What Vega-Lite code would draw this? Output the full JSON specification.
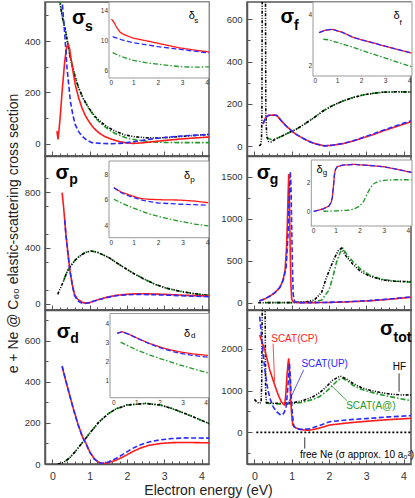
{
"$schema":"https://vega.github.io/schema/vega-lite/v6.json",
"padding":{"left":5,"top":0,"right":0,"bottom":0},
"datasets":{
"main":[
{"p":"s","s":"A@","x":0.2,"y":560},{"p":"s","s":"A@","x":0.27,"y":490},{"p":"s","s":"A@","x":0.35,"y":439},{"p":"s","s":"A@","x":0.48,"y":335},{"p":"s","s":"A@","x":0.6,"y":265},{"p":"s","s":"A@","x":0.7,"y":218},{"p":"s","s":"A@","x":0.83,"y":175},{"p":"s","s":"A@","x":0.97,"y":138},{"p":"s","s":"A@","x":1.15,"y":100},{"p":"s","s":"A@","x":1.32,"y":76},{"p":"s","s":"A@","x":1.5,"y":56},{"p":"s","s":"A@","x":1.68,"y":40},{"p":"s","s":"A@","x":1.95,"y":24},{"p":"s","s":"A@","x":2.15,"y":17},{"p":"s","s":"A@","x":2.59,"y":8},{"p":"s","s":"A@","x":3.0,"y":5},{"p":"s","s":"A@","x":3.47,"y":4},{"p":"s","s":"A@","x":4.2,"y":4},
{"p":"s","s":"HF","x":0.17,"y":600},{"p":"s","s":"HF","x":0.19,"y":556},{"p":"s","s":"HF","x":0.27,"y":490},{"p":"s","s":"HF","x":0.35,"y":439},{"p":"s","s":"HF","x":0.48,"y":335},{"p":"s","s":"HF","x":0.6,"y":265},{"p":"s","s":"HF","x":0.7,"y":218},{"p":"s","s":"HF","x":0.83,"y":175},{"p":"s","s":"HF","x":0.97,"y":140},{"p":"s","s":"HF","x":1.15,"y":105},{"p":"s","s":"HF","x":1.32,"y":82},{"p":"s","s":"HF","x":1.5,"y":63},{"p":"s","s":"HF","x":1.68,"y":49},{"p":"s","s":"HF","x":1.95,"y":34},{"p":"s","s":"HF","x":2.2,"y":27},{"p":"s","s":"HF","x":2.5,"y":23},{"p":"s","s":"HF","x":2.84,"y":22},{"p":"s","s":"HF","x":3.2,"y":25},{"p":"s","s":"HF","x":3.6,"y":30},{"p":"s","s":"HF","x":4.2,"y":36},
{"p":"s","s":"CP","x":0.12,"y":49},{"p":"s","s":"CP","x":0.15,"y":17},{"p":"s","s":"CP","x":0.2,"y":90},{"p":"s","s":"CP","x":0.26,"y":205},{"p":"s","s":"CP","x":0.33,"y":322},{"p":"s","s":"CP","x":0.38,"y":375},{"p":"s","s":"CP","x":0.42,"y":387},{"p":"s","s":"CP","x":0.46,"y":370},{"p":"s","s":"CP","x":0.52,"y":310},{"p":"s","s":"CP","x":0.61,"y":231},{"p":"s","s":"CP","x":0.7,"y":180},{"p":"s","s":"CP","x":0.79,"y":140},{"p":"s","s":"CP","x":0.88,"y":110},{"p":"s","s":"CP","x":0.97,"y":88},{"p":"s","s":"CP","x":1.1,"y":62},{"p":"s","s":"CP","x":1.24,"y":43},{"p":"s","s":"CP","x":1.4,"y":28},{"p":"s","s":"CP","x":1.59,"y":17},{"p":"s","s":"CP","x":1.8,"y":8},{"p":"s","s":"CP","x":1.95,"y":4},{"p":"s","s":"CP","x":2.15,"y":1},{"p":"s","s":"CP","x":2.4,"y":3},{"p":"s","s":"CP","x":2.7,"y":8},{"p":"s","s":"CP","x":3.04,"y":13},{"p":"s","s":"CP","x":3.5,"y":19},{"p":"s","s":"CP","x":4.2,"y":26},
{"p":"s","s":"UP","x":0.23,"y":600},{"p":"s","s":"UP","x":0.26,"y":556},{"p":"s","s":"UP","x":0.33,"y":426},{"p":"s","s":"UP","x":0.39,"y":296},{"p":"s","s":"UP","x":0.48,"y":166},{"p":"s","s":"UP","x":0.55,"y":110},{"p":"s","s":"UP","x":0.61,"y":75},{"p":"s","s":"UP","x":0.7,"y":48},{"p":"s","s":"UP","x":0.79,"y":30},{"p":"s","s":"UP","x":0.92,"y":14},{"p":"s","s":"UP","x":1.06,"y":4},{"p":"s","s":"UP","x":1.3,"y":1},{"p":"s","s":"UP","x":1.6,"y":0},{"p":"s","s":"UP","x":1.9,"y":2},{"p":"s","s":"UP","x":2.2,"y":8},{"p":"s","s":"UP","x":2.59,"y":17},{"p":"s","s":"UP","x":3.0,"y":24},{"p":"s","s":"UP","x":3.47,"y":30},{"p":"s","s":"UP","x":4.2,"y":36},

{"p":"f","s":"A@","x":0.34,"y":40},{"p":"f","s":"A@","x":0.42,"y":33},{"p":"f","s":"A@","x":0.5,"y":28},{"p":"f","s":"A@","x":0.6,"y":36},{"p":"f","s":"A@","x":0.77,"y":50},{"p":"f","s":"A@","x":1.12,"y":80},{"p":"f","s":"A@","x":1.31,"y":100},{"p":"f","s":"A@","x":1.6,"y":135},{"p":"f","s":"A@","x":1.84,"y":166},{"p":"f","s":"A@","x":2.1,"y":192},{"p":"f","s":"A@","x":2.37,"y":213},{"p":"f","s":"A@","x":2.65,"y":230},{"p":"f","s":"A@","x":2.91,"y":242},{"p":"f","s":"A@","x":3.2,"y":250},{"p":"f","s":"A@","x":3.44,"y":255},{"p":"f","s":"A@","x":3.8,"y":257},{"p":"f","s":"A@","x":4.2,"y":256},
{"p":"f","s":"HF","x":0.13,"y":0},{"p":"f","s":"HF","x":0.17,"y":8},{"p":"f","s":"HF","x":0.19,"y":40},{"p":"f","s":"HF","x":0.2,"y":150},{"p":"f","s":"HF","x":0.21,"y":800},{"p":"f","s":"HF","x":0.295,"y":800},{"p":"f","s":"HF","x":0.305,"y":150},{"p":"f","s":"HF","x":0.33,"y":45},{"p":"f","s":"HF","x":0.38,"y":22},{"p":"f","s":"HF","x":0.45,"y":20},{"p":"f","s":"HF","x":0.55,"y":32},{"p":"f","s":"HF","x":0.77,"y":50},{"p":"f","s":"HF","x":1.12,"y":80},{"p":"f","s":"HF","x":1.31,"y":100},{"p":"f","s":"HF","x":1.6,"y":135},{"p":"f","s":"HF","x":1.84,"y":166},{"p":"f","s":"HF","x":2.1,"y":192},{"p":"f","s":"HF","x":2.37,"y":213},{"p":"f","s":"HF","x":2.65,"y":230},{"p":"f","s":"HF","x":2.91,"y":242},{"p":"f","s":"HF","x":3.2,"y":250},{"p":"f","s":"HF","x":3.44,"y":255},{"p":"f","s":"HF","x":3.8,"y":257},{"p":"f","s":"HF","x":4.2,"y":256},
{"p":"f","s":"CP","x":0.23,"y":105},{"p":"f","s":"CP","x":0.3,"y":135},{"p":"f","s":"CP","x":0.37,"y":145},{"p":"f","s":"CP","x":0.5,"y":147},{"p":"f","s":"CP","x":0.6,"y":145},{"p":"f","s":"CP","x":0.72,"y":120},{"p":"f","s":"CP","x":0.85,"y":95},{"p":"f","s":"CP","x":1.0,"y":72},{"p":"f","s":"CP","x":1.12,"y":55},{"p":"f","s":"CP","x":1.3,"y":37},{"p":"f","s":"CP","x":1.47,"y":22},{"p":"f","s":"CP","x":1.65,"y":10},{"p":"f","s":"CP","x":1.88,"y":1},{"p":"f","s":"CP","x":2.1,"y":4},{"p":"f","s":"CP","x":2.37,"y":11},{"p":"f","s":"CP","x":2.65,"y":24},{"p":"f","s":"CP","x":2.91,"y":39},{"p":"f","s":"CP","x":3.2,"y":55},{"p":"f","s":"CP","x":3.44,"y":71},{"p":"f","s":"CP","x":3.8,"y":92},{"p":"f","s":"CP","x":4.2,"y":115},
{"p":"f","s":"UP","x":0.23,"y":105},{"p":"f","s":"UP","x":0.3,"y":135},{"p":"f","s":"UP","x":0.37,"y":145},{"p":"f","s":"UP","x":0.5,"y":147},{"p":"f","s":"UP","x":0.6,"y":145},{"p":"f","s":"UP","x":0.72,"y":120},{"p":"f","s":"UP","x":0.85,"y":95},{"p":"f","s":"UP","x":1.0,"y":72},{"p":"f","s":"UP","x":1.12,"y":55},{"p":"f","s":"UP","x":1.3,"y":37},{"p":"f","s":"UP","x":1.47,"y":22},{"p":"f","s":"UP","x":1.65,"y":10},{"p":"f","s":"UP","x":1.88,"y":1},{"p":"f","s":"UP","x":2.1,"y":4},{"p":"f","s":"UP","x":2.37,"y":12},{"p":"f","s":"UP","x":2.65,"y":25},{"p":"f","s":"UP","x":2.91,"y":41},{"p":"f","s":"UP","x":3.2,"y":58},{"p":"f","s":"UP","x":3.44,"y":74},{"p":"f","s":"UP","x":3.8,"y":96},{"p":"f","s":"UP","x":4.2,"y":120},

{"p":"p","s":"A@","x":0.3,"y":165},{"p":"p","s":"A@","x":0.4,"y":235},{"p":"p","s":"A@","x":0.5,"y":275},{"p":"p","s":"A@","x":0.6,"y":310},{"p":"p","s":"A@","x":0.72,"y":340},{"p":"p","s":"A@","x":0.88,"y":368},{"p":"p","s":"A@","x":1.03,"y":378},{"p":"p","s":"A@","x":1.2,"y":370},{"p":"p","s":"A@","x":1.52,"y":330},{"p":"p","s":"A@","x":1.8,"y":280},{"p":"p","s":"A@","x":2.14,"y":223},{"p":"p","s":"A@","x":2.45,"y":178},{"p":"p","s":"A@","x":2.76,"y":139},{"p":"p","s":"A@","x":3.05,"y":112},{"p":"p","s":"A@","x":3.39,"y":91},{"p":"p","s":"A@","x":3.8,"y":72},{"p":"p","s":"A@","x":4.2,"y":60},
{"p":"p","s":"HF","x":0.14,"y":67},{"p":"p","s":"HF","x":0.22,"y":115},{"p":"p","s":"HF","x":0.3,"y":165},{"p":"p","s":"HF","x":0.4,"y":235},{"p":"p","s":"HF","x":0.5,"y":275},{"p":"p","s":"HF","x":0.6,"y":310},{"p":"p","s":"HF","x":0.72,"y":340},{"p":"p","s":"HF","x":0.88,"y":368},{"p":"p","s":"HF","x":1.03,"y":378},{"p":"p","s":"HF","x":1.2,"y":370},{"p":"p","s":"HF","x":1.52,"y":330},{"p":"p","s":"HF","x":1.8,"y":280},{"p":"p","s":"HF","x":2.14,"y":223},{"p":"p","s":"HF","x":2.45,"y":178},{"p":"p","s":"HF","x":2.76,"y":139},{"p":"p","s":"HF","x":3.05,"y":112},{"p":"p","s":"HF","x":3.39,"y":91},{"p":"p","s":"HF","x":3.8,"y":72},{"p":"p","s":"HF","x":4.2,"y":60},
{"p":"p","s":"CP","x":0.26,"y":797},{"p":"p","s":"CP","x":0.3,"y":690},{"p":"p","s":"CP","x":0.36,"y":500},{"p":"p","s":"CP","x":0.42,"y":350},{"p":"p","s":"CP","x":0.47,"y":235},{"p":"p","s":"CP","x":0.53,"y":140},{"p":"p","s":"CP","x":0.59,"y":67},{"p":"p","s":"CP","x":0.68,"y":31},{"p":"p","s":"CP","x":0.8,"y":10},{"p":"p","s":"CP","x":0.9,"y":3},{"p":"p","s":"CP","x":1.0,"y":8},{"p":"p","s":"CP","x":1.1,"y":18},{"p":"p","s":"CP","x":1.25,"y":31},{"p":"p","s":"CP","x":1.45,"y":46},{"p":"p","s":"CP","x":1.7,"y":60},{"p":"p","s":"CP","x":2.0,"y":68},{"p":"p","s":"CP","x":2.32,"y":72},{"p":"p","s":"CP","x":2.7,"y":70},{"p":"p","s":"CP","x":3.04,"y":67},{"p":"p","s":"CP","x":3.6,"y":60},{"p":"p","s":"CP","x":4.2,"y":55},
{"p":"p","s":"UP","x":0.33,"y":600},{"p":"p","s":"UP","x":0.36,"y":500},{"p":"p","s":"UP","x":0.42,"y":350},{"p":"p","s":"UP","x":0.47,"y":235},{"p":"p","s":"UP","x":0.53,"y":140},{"p":"p","s":"UP","x":0.59,"y":60},{"p":"p","s":"UP","x":0.68,"y":20},{"p":"p","s":"UP","x":0.8,"y":3},{"p":"p","s":"UP","x":0.9,"y":3},{"p":"p","s":"UP","x":1.0,"y":8},{"p":"p","s":"UP","x":1.1,"y":18},{"p":"p","s":"UP","x":1.25,"y":30},{"p":"p","s":"UP","x":1.45,"y":44},{"p":"p","s":"UP","x":1.7,"y":57},{"p":"p","s":"UP","x":2.0,"y":64},{"p":"p","s":"UP","x":2.32,"y":67},{"p":"p","s":"UP","x":2.7,"y":65},{"p":"p","s":"UP","x":3.04,"y":62},{"p":"p","s":"UP","x":3.6,"y":56},{"p":"p","s":"UP","x":4.2,"y":50},

{"p":"g","s":"A@","x":0.3,"y":0},{"p":"g","s":"A@","x":1.0,"y":1},{"p":"g","s":"A@","x":1.5,"y":5},{"p":"g","s":"A@","x":1.8,"y":30},{"p":"g","s":"A@","x":2.0,"y":150},{"p":"g","s":"A@","x":2.1,"y":300},{"p":"g","s":"A@","x":2.2,"y":480},{"p":"g","s":"A@","x":2.3,"y":600},{"p":"g","s":"A@","x":2.37,"y":648},{"p":"g","s":"A@","x":2.5,"y":560},{"p":"g","s":"A@","x":2.64,"y":490},{"p":"g","s":"A@","x":2.85,"y":400},{"p":"g","s":"A@","x":3.08,"y":330},{"p":"g","s":"A@","x":3.4,"y":280},{"p":"g","s":"A@","x":3.8,"y":255},{"p":"g","s":"A@","x":4.2,"y":245},
{"p":"g","s":"HF","x":0.1,"y":0},{"p":"g","s":"HF","x":1.0,"y":1},{"p":"g","s":"HF","x":1.4,"y":10},{"p":"g","s":"HF","x":1.6,"y":30},{"p":"g","s":"HF","x":1.8,"y":120},{"p":"g","s":"HF","x":1.93,"y":298},{"p":"g","s":"HF","x":2.05,"y":430},{"p":"g","s":"HF","x":2.15,"y":536},{"p":"g","s":"HF","x":2.25,"y":620},{"p":"g","s":"HF","x":2.33,"y":648},{"p":"g","s":"HF","x":2.45,"y":560},{"p":"g","s":"HF","x":2.64,"y":457},{"p":"g","s":"HF","x":2.85,"y":370},{"p":"g","s":"HF","x":3.08,"y":318},{"p":"g","s":"HF","x":3.4,"y":275},{"p":"g","s":"HF","x":3.62,"y":258},{"p":"g","s":"HF","x":4.2,"y":250},
{"p":"g","s":"CP","x":0.13,"y":20},{"p":"g","s":"CP","x":0.3,"y":50},{"p":"g","s":"CP","x":0.42,"y":80},{"p":"g","s":"CP","x":0.55,"y":120},{"p":"g","s":"CP","x":0.68,"y":180},{"p":"g","s":"CP","x":0.76,"y":260},{"p":"g","s":"CP","x":0.82,"y":380},{"p":"g","s":"CP","x":0.86,"y":650},{"p":"g","s":"CP","x":0.88,"y":900},{"p":"g","s":"CP","x":0.9,"y":1250},{"p":"g","s":"CP","x":0.92,"y":1530},{"p":"g","s":"CP","x":0.94,"y":1200},{"p":"g","s":"CP","x":0.96,"y":600},{"p":"g","s":"CP","x":0.98,"y":200},{"p":"g","s":"CP","x":1.0,"y":40},{"p":"g","s":"CP","x":1.05,"y":5},{"p":"g","s":"CP","x":1.2,"y":1},{"p":"g","s":"CP","x":1.6,"y":1},{"p":"g","s":"CP","x":2.0,"y":3},{"p":"g","s":"CP","x":2.5,"y":10},{"p":"g","s":"CP","x":3.08,"y":22},{"p":"g","s":"CP","x":3.6,"y":40},{"p":"g","s":"CP","x":4.2,"y":65},
{"p":"g","s":"UP","x":0.13,"y":20},{"p":"g","s":"UP","x":0.3,"y":50},{"p":"g","s":"UP","x":0.42,"y":80},{"p":"g","s":"UP","x":0.55,"y":120},{"p":"g","s":"UP","x":0.68,"y":180},{"p":"g","s":"UP","x":0.78,"y":280},{"p":"g","s":"UP","x":0.85,"y":420},{"p":"g","s":"UP","x":0.9,"y":800},{"p":"g","s":"UP","x":0.93,"y":1200},{"p":"g","s":"UP","x":0.96,"y":1560},{"p":"g","s":"UP","x":0.98,"y":1400},{"p":"g","s":"UP","x":1.0,"y":900},{"p":"g","s":"UP","x":1.02,"y":400},{"p":"g","s":"UP","x":1.04,"y":100},{"p":"g","s":"UP","x":1.08,"y":10},{"p":"g","s":"UP","x":1.2,"y":1},{"p":"g","s":"UP","x":1.6,"y":1},{"p":"g","s":"UP","x":2.0,"y":4},{"p":"g","s":"UP","x":2.5,"y":12},{"p":"g","s":"UP","x":3.08,"y":25},{"p":"g","s":"UP","x":3.6,"y":43},{"p":"g","s":"UP","x":4.2,"y":68},

{"p":"d","s":"A@","x":0.35,"y":14},{"p":"d","s":"A@","x":0.45,"y":28},{"p":"d","s":"A@","x":0.6,"y":58},{"p":"d","s":"A@","x":0.82,"y":108},{"p":"d","s":"A@","x":1.0,"y":150},{"p":"d","s":"A@","x":1.25,"y":205},{"p":"d","s":"A@","x":1.5,"y":245},{"p":"d","s":"A@","x":1.7,"y":268},{"p":"d","s":"A@","x":2.0,"y":287},{"p":"d","s":"A@","x":2.5,"y":295},{"p":"d","s":"A@","x":2.9,"y":287},{"p":"d","s":"A@","x":3.21,"y":270},{"p":"d","s":"A@","x":3.5,"y":250},{"p":"d","s":"A@","x":3.8,"y":228},{"p":"d","s":"A@","x":4.2,"y":197},
{"p":"d","s":"HF","x":0.14,"y":0},{"p":"d","s":"HF","x":0.25,"y":4},{"p":"d","s":"HF","x":0.35,"y":14},{"p":"d","s":"HF","x":0.45,"y":28},{"p":"d","s":"HF","x":0.6,"y":58},{"p":"d","s":"HF","x":0.82,"y":108},{"p":"d","s":"HF","x":1.0,"y":150},{"p":"d","s":"HF","x":1.25,"y":205},{"p":"d","s":"HF","x":1.5,"y":245},{"p":"d","s":"HF","x":1.7,"y":268},{"p":"d","s":"HF","x":2.0,"y":287},{"p":"d","s":"HF","x":2.5,"y":295},{"p":"d","s":"HF","x":2.9,"y":287},{"p":"d","s":"HF","x":3.21,"y":270},{"p":"d","s":"HF","x":3.5,"y":250},{"p":"d","s":"HF","x":3.8,"y":228},{"p":"d","s":"HF","x":4.2,"y":197},
{"p":"d","s":"CP","x":0.26,"y":473},{"p":"d","s":"CP","x":0.35,"y":410},{"p":"d","s":"CP","x":0.45,"y":343},{"p":"d","s":"CP","x":0.56,"y":270},{"p":"d","s":"CP","x":0.68,"y":197},{"p":"d","s":"CP","x":0.8,"y":135},{"p":"d","s":"CP","x":0.9,"y":100},{"p":"d","s":"CP","x":1.0,"y":60},{"p":"d","s":"CP","x":1.12,"y":26},{"p":"d","s":"CP","x":1.25,"y":8},{"p":"d","s":"CP","x":1.34,"y":2},{"p":"d","s":"CP","x":1.45,"y":4},{"p":"d","s":"CP","x":1.7,"y":18},{"p":"d","s":"CP","x":1.9,"y":35},{"p":"d","s":"CP","x":2.14,"y":59},{"p":"d","s":"CP","x":2.35,"y":77},{"p":"d","s":"CP","x":2.59,"y":91},{"p":"d","s":"CP","x":2.9,"y":100},{"p":"d","s":"CP","x":3.21,"y":104},{"p":"d","s":"CP","x":3.6,"y":105},{"p":"d","s":"CP","x":4.2,"y":103},
{"p":"d","s":"UP","x":0.26,"y":478},{"p":"d","s":"UP","x":0.35,"y":412},{"p":"d","s":"UP","x":0.45,"y":343},{"p":"d","s":"UP","x":0.56,"y":268},{"p":"d","s":"UP","x":0.68,"y":195},{"p":"d","s":"UP","x":0.8,"y":133},{"p":"d","s":"UP","x":0.9,"y":98},{"p":"d","s":"UP","x":1.0,"y":58},{"p":"d","s":"UP","x":1.12,"y":25},{"p":"d","s":"UP","x":1.25,"y":7},{"p":"d","s":"UP","x":1.34,"y":3},{"p":"d","s":"UP","x":1.45,"y":6},{"p":"d","s":"UP","x":1.7,"y":26},{"p":"d","s":"UP","x":1.9,"y":48},{"p":"d","s":"UP","x":2.14,"y":75},{"p":"d","s":"UP","x":2.35,"y":93},{"p":"d","s":"UP","x":2.59,"y":107},{"p":"d","s":"UP","x":2.9,"y":118},{"p":"d","s":"UP","x":3.21,"y":124},{"p":"d","s":"UP","x":3.6,"y":127},{"p":"d","s":"UP","x":4.2,"y":126},

{"p":"t","s":"Ne","x":0.05,"y":0},{"p":"t","s":"Ne","x":4.2,"y":0},
{"p":"t","s":"A@","x":0.3,"y":700},{"p":"t","s":"A@","x":0.5,"y":685},{"p":"t","s":"A@","x":0.8,"y":680},{"p":"t","s":"A@","x":1.04,"y":690},{"p":"t","s":"A@","x":1.3,"y":720},{"p":"t","s":"A@","x":1.57,"y":790},{"p":"t","s":"A@","x":1.75,"y":860},{"p":"t","s":"A@","x":1.93,"y":980},{"p":"t","s":"A@","x":2.1,"y":1130},{"p":"t","s":"A@","x":2.25,"y":1260},{"p":"t","s":"A@","x":2.36,"y":1300},{"p":"t","s":"A@","x":2.5,"y":1230},{"p":"t","s":"A@","x":2.64,"y":1130},{"p":"t","s":"A@","x":2.85,"y":1040},{"p":"t","s":"A@","x":3.08,"y":975},{"p":"t","s":"A@","x":3.35,"y":910},{"p":"t","s":"A@","x":3.62,"y":860},{"p":"t","s":"A@","x":3.9,"y":810},{"p":"t","s":"A@","x":4.2,"y":760},
{"p":"t","s":"HF","x":0.0,"y":790},{"p":"t","s":"HF","x":0.07,"y":720},{"p":"t","s":"HF","x":0.14,"y":695},{"p":"t","s":"HF","x":0.18,"y":730},{"p":"t","s":"HF","x":0.195,"y":1200},{"p":"t","s":"HF","x":0.21,"y":3100},{"p":"t","s":"HF","x":0.285,"y":3100},{"p":"t","s":"HF","x":0.3,"y":1000},{"p":"t","s":"HF","x":0.32,"y":720},{"p":"t","s":"HF","x":0.4,"y":700},{"p":"t","s":"HF","x":0.7,"y":695},{"p":"t","s":"HF","x":1.04,"y":711},{"p":"t","s":"HF","x":1.3,"y":760},{"p":"t","s":"HF","x":1.57,"y":855},{"p":"t","s":"HF","x":1.75,"y":950},{"p":"t","s":"HF","x":1.93,"y":1095},{"p":"t","s":"HF","x":2.1,"y":1250},{"p":"t","s":"HF","x":2.3,"y":1351},{"p":"t","s":"HF","x":2.45,"y":1290},{"p":"t","s":"HF","x":2.64,"y":1176},{"p":"t","s":"HF","x":2.85,"y":1080},{"p":"t","s":"HF","x":3.08,"y":1015},{"p":"t","s":"HF","x":3.35,"y":960},{"p":"t","s":"HF","x":3.62,"y":919},{"p":"t","s":"HF","x":3.9,"y":900},{"p":"t","s":"HF","x":4.2,"y":895},
{"p":"t","s":"CP","x":0.14,"y":2335},{"p":"t","s":"CP","x":0.2,"y":2170},{"p":"t","s":"CP","x":0.28,"y":1975},{"p":"t","s":"CP","x":0.35,"y":1720},{"p":"t","s":"CP","x":0.41,"y":1495},{"p":"t","s":"CP","x":0.5,"y":1250},{"p":"t","s":"CP","x":0.59,"y":1015},{"p":"t","s":"CP","x":0.66,"y":850},{"p":"t","s":"CP","x":0.72,"y":734},{"p":"t","s":"CP","x":0.78,"y":670},{"p":"t","s":"CP","x":0.81,"y":655},{"p":"t","s":"CP","x":0.84,"y":900},{"p":"t","s":"CP","x":0.87,"y":1335},{"p":"t","s":"CP","x":0.9,"y":1650},{"p":"t","s":"CP","x":0.92,"y":1776},{"p":"t","s":"CP","x":0.95,"y":1300},{"p":"t","s":"CP","x":0.97,"y":800},{"p":"t","s":"CP","x":0.99,"y":535},{"p":"t","s":"CP","x":1.01,"y":300},{"p":"t","s":"CP","x":1.03,"y":175},{"p":"t","s":"CP","x":1.1,"y":110},{"p":"t","s":"CP","x":1.21,"y":72},{"p":"t","s":"CP","x":1.35,"y":55},{"p":"t","s":"CP","x":1.47,"y":52},{"p":"t","s":"CP","x":1.7,"y":90},{"p":"t","s":"CP","x":2.02,"y":175},{"p":"t","s":"CP","x":2.5,"y":225},{"p":"t","s":"CP","x":3.08,"y":271},{"p":"t","s":"CP","x":3.6,"y":305},{"p":"t","s":"CP","x":4.2,"y":335},
{"p":"t","s":"UP","x":0.14,"y":2775},{"p":"t","s":"UP","x":0.17,"y":2500},{"p":"t","s":"UP","x":0.19,"y":2295},{"p":"t","s":"UP","x":0.23,"y":1900},{"p":"t","s":"UP","x":0.28,"y":1495},{"p":"t","s":"UP","x":0.36,"y":1015},{"p":"t","s":"UP","x":0.43,"y":780},{"p":"t","s":"UP","x":0.5,"y":615},{"p":"t","s":"UP","x":0.6,"y":490},{"p":"t","s":"UP","x":0.68,"y":430},{"p":"t","s":"UP","x":0.75,"y":415},{"p":"t","s":"UP","x":0.8,"y":480},{"p":"t","s":"UP","x":0.85,"y":615},{"p":"t","s":"UP","x":0.89,"y":1000},{"p":"t","s":"UP","x":0.92,"y":1400},{"p":"t","s":"UP","x":0.94,"y":1656},{"p":"t","s":"UP","x":0.97,"y":1200},{"p":"t","s":"UP","x":0.99,"y":800},{"p":"t","s":"UP","x":1.01,"y":535},{"p":"t","s":"UP","x":1.04,"y":250},{"p":"t","s":"UP","x":1.06,"y":135},{"p":"t","s":"UP","x":1.15,"y":85},{"p":"t","s":"UP","x":1.25,"y":72},{"p":"t","s":"UP","x":1.45,"y":80},{"p":"t","s":"UP","x":1.7,"y":150},{"p":"t","s":"UP","x":2.02,"y":255},{"p":"t","s":"UP","x":2.5,"y":300},{"p":"t","s":"UP","x":3.08,"y":335},{"p":"t","s":"UP","x":3.6,"y":370},{"p":"t","s":"UP","x":4.2,"y":400}
],
"ins":[
{"p":"s","s":"A@","x":0.15,"y":8.4},{"p":"s","s":"A@","x":0.5,"y":7.9},{"p":"s","s":"A@","x":1,"y":7.4},{"p":"s","s":"A@","x":1.5,"y":7.1},{"p":"s","s":"A@","x":2,"y":6.9},{"p":"s","s":"A@","x":2.5,"y":6.7},{"p":"s","s":"A@","x":3,"y":6.55},{"p":"s","s":"A@","x":3.5,"y":6.5},{"p":"s","s":"A@","x":4.1,"y":6.55},
{"p":"s","s":"CP","x":0.1,"y":12.8},{"p":"s","s":"CP","x":0.2,"y":12.4},{"p":"s","s":"CP","x":0.3,"y":11.8},{"p":"s","s":"CP","x":0.45,"y":11.1},{"p":"s","s":"CP","x":0.6,"y":10.8},{"p":"s","s":"CP","x":1,"y":10.3},{"p":"s","s":"CP","x":1.63,"y":9.9},{"p":"s","s":"CP","x":2.2,"y":9.5},{"p":"s","s":"CP","x":2.86,"y":9.05},{"p":"s","s":"CP","x":3.5,"y":8.75},{"p":"s","s":"CP","x":4.1,"y":8.5},
{"p":"s","s":"UP","x":0.15,"y":10.5},{"p":"s","s":"UP","x":0.5,"y":10.1},{"p":"s","s":"UP","x":1,"y":9.7},{"p":"s","s":"UP","x":1.5,"y":9.45},{"p":"s","s":"UP","x":2,"y":9.2},{"p":"s","s":"UP","x":3,"y":8.8},{"p":"s","s":"UP","x":3.5,"y":8.6},{"p":"s","s":"UP","x":4.1,"y":8.35},
{"p":"f","s":"A@","x":0.43,"y":3.02},{"p":"f","s":"A@","x":0.65,"y":3.0},{"p":"f","s":"A@","x":1.0,"y":2.9},{"p":"f","s":"A@","x":1.71,"y":2.69},{"p":"f","s":"A@","x":2.3,"y":2.5},{"p":"f","s":"A@","x":2.96,"y":2.3},{"p":"f","s":"A@","x":3.6,"y":2.1},{"p":"f","s":"A@","x":4.1,"y":1.95},
{"p":"f","s":"CP","x":0.25,"y":3.28},{"p":"f","s":"CP","x":0.5,"y":3.37},{"p":"f","s":"CP","x":0.8,"y":3.41},{"p":"f","s":"CP","x":1.2,"y":3.3},{"p":"f","s":"CP","x":1.71,"y":3.08},{"p":"f","s":"CP","x":2.3,"y":2.93},{"p":"f","s":"CP","x":2.96,"y":2.76},{"p":"f","s":"CP","x":3.6,"y":2.6},{"p":"f","s":"CP","x":4.1,"y":2.48},
{"p":"f","s":"UP","x":0.25,"y":3.28},{"p":"f","s":"UP","x":0.5,"y":3.37},{"p":"f","s":"UP","x":0.8,"y":3.41},{"p":"f","s":"UP","x":1.2,"y":3.3},{"p":"f","s":"UP","x":1.71,"y":3.08},{"p":"f","s":"UP","x":2.3,"y":2.93},{"p":"f","s":"UP","x":2.96,"y":2.76},{"p":"f","s":"UP","x":3.6,"y":2.6},{"p":"f","s":"UP","x":4.1,"y":2.48},
{"p":"p","s":"A@","x":0.2,"y":6.04},{"p":"p","s":"A@","x":0.5,"y":5.75},{"p":"p","s":"A@","x":1,"y":5.35},{"p":"p","s":"A@","x":1.63,"y":4.9},{"p":"p","s":"A@","x":2.2,"y":4.6},{"p":"p","s":"A@","x":2.86,"y":4.33},{"p":"p","s":"A@","x":3.5,"y":4.1},{"p":"p","s":"A@","x":4.05,"y":3.95},
{"p":"p","s":"CP","x":0.2,"y":6.95},{"p":"p","s":"CP","x":0.5,"y":6.6},{"p":"p","s":"CP","x":0.95,"y":6.3},{"p":"p","s":"CP","x":1.3,"y":6.1},{"p":"p","s":"CP","x":1.63,"y":6.04},{"p":"p","s":"CP","x":2.2,"y":6.0},{"p":"p","s":"CP","x":2.86,"y":5.98},{"p":"p","s":"CP","x":3.5,"y":5.9},{"p":"p","s":"CP","x":4.05,"y":5.77},
{"p":"p","s":"UP","x":0.2,"y":6.95},{"p":"p","s":"UP","x":0.5,"y":6.55},{"p":"p","s":"UP","x":0.95,"y":6.2},{"p":"p","s":"UP","x":1.4,"y":5.95},{"p":"p","s":"UP","x":2,"y":5.75},{"p":"p","s":"UP","x":3,"y":5.65},{"p":"p","s":"UP","x":4.05,"y":5.58},
{"p":"g","s":"A@","x":0.5,"y":0.05},{"p":"g","s":"A@","x":1.0,"y":0.07},{"p":"g","s":"A@","x":1.5,"y":0.12},{"p":"g","s":"A@","x":1.76,"y":0.2},{"p":"g","s":"A@","x":2.0,"y":0.4},{"p":"g","s":"A@","x":2.18,"y":0.75},{"p":"g","s":"A@","x":2.3,"y":1.2},{"p":"g","s":"A@","x":2.45,"y":1.66},{"p":"g","s":"A@","x":2.6,"y":1.95},{"p":"g","s":"A@","x":2.8,"y":2.1},{"p":"g","s":"A@","x":3.0,"y":2.16},{"p":"g","s":"A@","x":3.5,"y":2.2},{"p":"g","s":"A@","x":4.15,"y":2.2},
{"p":"g","s":"CP","x":0.1,"y":0.05},{"p":"g","s":"CP","x":0.3,"y":0.12},{"p":"g","s":"CP","x":0.5,"y":0.22},{"p":"g","s":"CP","x":0.73,"y":0.41},{"p":"g","s":"CP","x":0.82,"y":0.65},{"p":"g","s":"CP","x":0.87,"y":0.98},{"p":"g","s":"CP","x":0.92,"y":1.8},{"p":"g","s":"CP","x":0.96,"y":2.57},{"p":"g","s":"CP","x":1.0,"y":2.9},{"p":"g","s":"CP","x":1.07,"y":3.09},{"p":"g","s":"CP","x":1.3,"y":3.2},{"p":"g","s":"CP","x":1.76,"y":3.25},{"p":"g","s":"CP","x":2.4,"y":3.18},{"p":"g","s":"CP","x":3.0,"y":3.09},{"p":"g","s":"CP","x":3.6,"y":2.9},{"p":"g","s":"CP","x":4.15,"y":2.7},
{"p":"g","s":"UP","x":0.1,"y":0.05},{"p":"g","s":"UP","x":0.3,"y":0.12},{"p":"g","s":"UP","x":0.5,"y":0.22},{"p":"g","s":"UP","x":0.73,"y":0.41},{"p":"g","s":"UP","x":0.82,"y":0.65},{"p":"g","s":"UP","x":0.87,"y":0.98},{"p":"g","s":"UP","x":0.92,"y":1.8},{"p":"g","s":"UP","x":0.96,"y":2.57},{"p":"g","s":"UP","x":1.0,"y":2.9},{"p":"g","s":"UP","x":1.07,"y":3.09},{"p":"g","s":"UP","x":1.3,"y":3.2},{"p":"g","s":"UP","x":1.76,"y":3.25},{"p":"g","s":"UP","x":2.4,"y":3.18},{"p":"g","s":"UP","x":3.0,"y":3.09},{"p":"g","s":"UP","x":3.6,"y":2.9},{"p":"g","s":"UP","x":4.15,"y":2.7},
{"p":"d","s":"A@","x":0.32,"y":3.02},{"p":"d","s":"A@","x":0.7,"y":2.8},{"p":"d","s":"A@","x":1.0,"y":2.62},{"p":"d","s":"A@","x":1.55,"y":2.36},{"p":"d","s":"A@","x":2.2,"y":2.1},{"p":"d","s":"A@","x":2.84,"y":1.85},{"p":"d","s":"A@","x":3.5,"y":1.62},{"p":"d","s":"A@","x":4.1,"y":1.42},
{"p":"d","s":"CP","x":0.17,"y":3.48},{"p":"d","s":"CP","x":0.39,"y":3.56},{"p":"d","s":"CP","x":0.7,"y":3.42},{"p":"d","s":"CP","x":1.0,"y":3.25},{"p":"d","s":"CP","x":1.55,"y":2.96},{"p":"d","s":"CP","x":2.2,"y":2.7},{"p":"d","s":"CP","x":2.84,"y":2.52},{"p":"d","s":"CP","x":3.5,"y":2.4},{"p":"d","s":"CP","x":4.1,"y":2.33},
{"p":"d","s":"UP","x":0.17,"y":3.48},{"p":"d","s":"UP","x":0.39,"y":3.56},{"p":"d","s":"UP","x":0.7,"y":3.42},{"p":"d","s":"UP","x":1.0,"y":3.24},{"p":"d","s":"UP","x":1.55,"y":2.94},{"p":"d","s":"UP","x":2.2,"y":2.66},{"p":"d","s":"UP","x":2.84,"y":2.45},{"p":"d","s":"UP","x":3.5,"y":2.32},{"p":"d","s":"UP","x":4.1,"y":2.24}
],
"fr":[
{"p":"s","x0":0,"x1":4.1,"y0":5.08,"y1":15.05},
{"p":"f","x0":0,"x1":4.125,"y0":1.58,"y1":4.48},
{"p":"p","x0":0,"x1":4.08,"y0":3.03,"y1":9.04},
{"p":"g","x0":0,"x1":4.17,"y0":-0.956,"y1":3.55},
{"p":"d","x0":-0.14,"x1":4.145,"y0":0.13,"y1":4.51}
],
"lab":[
{"p":"s","w":"m","k":"b","x":0.525,"y":465,"t":"σ"},{"p":"s","w":"m","k":"s","x":0.87,"y":439,"t":"s"},
{"p":"f","w":"m","k":"b","x":0.7,"y":584,"t":"σ"},{"p":"f","w":"m","k":"s","x":1.06,"y":548,"t":"f"},
{"p":"p","w":"m","k":"b","x":0.08,"y":893,"t":"σ"},{"p":"p","w":"m","k":"s","x":0.45,"y":859,"t":"p"},
{"p":"g","w":"m","k":"b","x":0.06,"y":1469,"t":"σ"},{"p":"g","w":"m","k":"s","x":0.41,"y":1413,"t":"g"},
{"p":"d","w":"m","k":"b","x":0.115,"y":612,"t":"σ"},{"p":"d","w":"m","k":"s","x":0.475,"y":587,"t":"d"},
{"p":"t","w":"m","k":"b","x":3.37,"y":2335,"t":"σ"},{"p":"t","w":"m","k":"s","x":3.73,"y":2174,"t":"tot"},
{"p":"s","w":"i","k":"b","x":3.27,"y":12.78,"t":"δ"},{"p":"s","w":"i","k":"s","x":3.5,"y":12.33,"t":"s"},
{"p":"f","w":"i","k":"b","x":3.35,"y":3.8,"t":"δ"},{"p":"f","w":"i","k":"s","x":3.6,"y":3.58,"t":"f"},
{"p":"p","w":"i","k":"b","x":3.06,"y":7.6,"t":"δ"},{"p":"p","w":"i","k":"s","x":3.31,"y":7.4,"t":"p"},
{"p":"g","w":"i","k":"b","x":0.22,"y":2.68,"t":"δ"},{"p":"g","w":"i","k":"s","x":0.47,"y":2.53,"t":"g"},
{"p":"d","w":"i","k":"b","x":3.06,"y":3.3,"t":"δ"},{"p":"d","w":"i","k":"s","x":3.37,"y":3.22,"t":"d"}
],
"lead":[
{"s":"CP","x":0.5,"y":2130,"x2":0.54,"y2":1215},
{"s":"UP","x":1.32,"y":1500,"x2":0.88,"y2":650},
{"s":"HF","x":3.88,"y":1415,"x2":3.88,"y2":975},
{"s":"A@","x":2.05,"y":1130,"x2":2.48,"y2":760},
{"s":"HF","x":1.35,"y":-120,"x2":1.35,"y2":-390}
],
"ann":[
{"s":"CP","x":0.45,"y":2232,"t":"SCAT(CP)"},
{"s":"UP","x":1.26,"y":1632,"t":"SCAT(UP)"},
{"s":"HF","x":3.71,"y":1560,"t":"HF"},
{"s":"A@","x":2.46,"y":638,"t":"SCAT(A@)"},
{"s":"HF","x":1.22,"y":-545,"t":"free Ne (σ approx. 10 a₀²)"}
]
},
"concat":[
{"width":164,"height":154,"resolve":{"scale":{"x":"independent","y":"independent"}},
"layer":[
{"layer":[
{"data":{"name":"main"},"transform":[{"filter":"datum.p=='s'"}],"mark":{"type":"line","strokeWidth":1.6,"clip":true},
"encoding":{"x":{"field":"x","type":"quantitative","scale":{"domain":[-0.2,4.2],"nice":false,"zero":false},"axis":{"values":[0,1,2,3,4],"labels":false,"title":null}},
"y":{"field":"y","type":"quantitative","scale":{"domain":[-48,552],"nice":false,"zero":false},"axis":{"values":[0,200,400],"format":"d","title":null}},
"color":{"field":"s","type":"nominal","scale":{"domain":["A@","HF","CP","UP","Ne"],"range":["#22992a","#000000","#ff1a1a","#2a2aff","#000000"]},"legend":null},
"strokeDash":{"field":"s","type":"nominal","scale":{"domain":["A@","HF","CP","UP","Ne"],"range":[[5,2,1.5,2],[3,1.5,1,1.5,1,1.5],[1,0],[5,2.5],[2,2]]},"legend":null}}},
{"data":{"name":"lab"},"transform":[{"filter":"datum.p=='s'&&datum.w=='m'&&datum.k=='b'"}],"mark":{"type":"text","align":"left","baseline":"alphabetic","fontSize":20,"fontWeight":"bold"},"encoding":{"x":{"field":"x","type":"quantitative"},"y":{"field":"y","type":"quantitative"},"text":{"field":"t"}}},
{"data":{"name":"lab"},"transform":[{"filter":"datum.p=='s'&&datum.w=='m'&&datum.k=='s'"}],"mark":{"type":"text","align":"left","baseline":"alphabetic","fontSize":14,"fontWeight":"bold"},"encoding":{"x":{"field":"x","type":"quantitative"},"y":{"field":"y","type":"quantitative"},"text":{"field":"t"}}}
]},
{"data":{"name":"main"},"transform":[{"filter":"datum.p=='s'"}],"mark":{"type":"point","opacity":0,"clip":true},
"encoding":{"x":{"field":"x","type":"quantitative","scale":{"domain":[-0.2,4.2],"nice":false,"zero":false},"axis":{"orient":"bottom","values":[0.2,0.4,0.6,0.8,1.2,1.4,1.6,1.8,2.2,2.4,2.6,2.8,3.2,3.4,3.6,3.8],"labels":false,"domain":false,"title":null,"tickSize":-3}},
"y":{"field":"y","type":"quantitative","scale":{"domain":[-48,552],"nice":false,"zero":false},"axis":{"orient":"left","values":[100,300,500],"labels":false,"domain":false,"title":null,"tickSize":-3}}}},
{"layer":[
{"data":{"name":"fr"},"transform":[{"filter":"datum.p=='s'"}],"mark":{"type":"rect","fill":"#ffffff","stroke":"#999999","strokeWidth":1},
"encoding":{"x":{"field":"x0","type":"quantitative","scale":{"domain":[0,4.1],"range":[64,164],"nice":false,"zero":false},"axis":{"orient":"bottom","offset":-78,"values":[0,1,2,3,4],"title":null,"domain":false,"labelFontSize":6.5,"tickSize":-2.5,"labelPadding":4,"tickColor":"#999999"}},"x2":{"field":"x1"},
"y":{"field":"y0","type":"quantitative","scale":{"domain":[5.08,15.05],"range":[76,0],"nice":false,"zero":false},"axis":{"orient":"left","offset":-64,"values":[6,8,10,12,14],"title":null,"domain":false,"labelFontSize":6.5,"tickSize":-2.5,"labelPadding":4,"tickColor":"#999999"}},"y2":{"field":"y1"}}},
{"data":{"name":"ins"},"transform":[{"filter":"datum.p=='s'"}],"mark":{"type":"line","strokeWidth":1.3},
"encoding":{"x":{"field":"x","type":"quantitative"},"y":{"field":"y","type":"quantitative"},
"color":{"field":"s","type":"nominal","scale":{"domain":["A@","HF","CP","UP","Ne"],"range":["#22992a","#000000","#ff1a1a","#2a2aff","#000000"]},"legend":null},
"strokeDash":{"field":"s","type":"nominal","scale":{"domain":["A@","HF","CP","UP","Ne"],"range":[[5,2,1.5,2],[3,1.5,1,1.5,1,1.5],[1,0],[5,2.5],[2,2]]},"legend":null}}},
{"data":{"name":"lab"},"transform":[{"filter":"datum.p=='s'&&datum.w=='i'&&datum.k=='b'"}],"mark":{"type":"text","align":"left","baseline":"alphabetic","fontSize":11},"encoding":{"x":{"field":"x","type":"quantitative"},"y":{"field":"y","type":"quantitative"},"text":{"field":"t"}}},
{"data":{"name":"lab"},"transform":[{"filter":"datum.p=='s'&&datum.w=='i'&&datum.k=='s'"}],"mark":{"type":"text","align":"left","baseline":"alphabetic","fontSize":8},"encoding":{"x":{"field":"x","type":"quantitative"},"y":{"field":"y","type":"quantitative"},"text":{"field":"t"}}}
]}
]},

{"width":164,"height":154,"resolve":{"scale":{"x":"independent","y":"independent"}},
"layer":[
{"layer":[
{"data":{"name":"main"},"transform":[{"filter":"datum.p=='f'"}],"mark":{"type":"line","strokeWidth":1.6,"clip":true},
"encoding":{"x":{"field":"x","type":"quantitative","scale":{"domain":[-0.2,4.2],"nice":false,"zero":false},"axis":{"values":[0,1,2,3,4],"labels":false,"title":null}},
"y":{"field":"y","type":"quantitative","scale":{"domain":[-47,682],"nice":false,"zero":false},"axis":{"values":[0,200,400,600],"format":"d","title":null}},
"color":{"field":"s","type":"nominal","scale":{"domain":["A@","HF","CP","UP","Ne"],"range":["#22992a","#000000","#ff1a1a","#2a2aff","#000000"]},"legend":null},
"strokeDash":{"field":"s","type":"nominal","scale":{"domain":["A@","HF","CP","UP","Ne"],"range":[[5,2,1.5,2],[3,1.5,1,1.5,1,1.5],[1,0],[5,2.5],[2,2]]},"legend":null}}},
{"data":{"name":"lab"},"transform":[{"filter":"datum.p=='f'&&datum.w=='m'&&datum.k=='b'"}],"mark":{"type":"text","align":"left","baseline":"alphabetic","fontSize":20,"fontWeight":"bold"},"encoding":{"x":{"field":"x","type":"quantitative"},"y":{"field":"y","type":"quantitative"},"text":{"field":"t"}}},
{"data":{"name":"lab"},"transform":[{"filter":"datum.p=='f'&&datum.w=='m'&&datum.k=='s'"}],"mark":{"type":"text","align":"left","baseline":"alphabetic","fontSize":14,"fontWeight":"bold"},"encoding":{"x":{"field":"x","type":"quantitative"},"y":{"field":"y","type":"quantitative"},"text":{"field":"t"}}}
]},
{"data":{"name":"main"},"transform":[{"filter":"datum.p=='f'"}],"mark":{"type":"point","opacity":0,"clip":true},
"encoding":{"x":{"field":"x","type":"quantitative","scale":{"domain":[-0.2,4.2],"nice":false,"zero":false},"axis":{"orient":"bottom","values":[0.2,0.4,0.6,0.8,1.2,1.4,1.6,1.8,2.2,2.4,2.6,2.8,3.2,3.4,3.6,3.8],"labels":false,"domain":false,"title":null,"tickSize":-3}},
"y":{"field":"y","type":"quantitative","scale":{"domain":[-47,682],"nice":false,"zero":false},"axis":{"orient":"left","values":[100,300,500],"labels":false,"domain":false,"title":null,"tickSize":-3}}}},
{"layer":[
{"data":{"name":"fr"},"transform":[{"filter":"datum.p=='f'"}],"mark":{"type":"rect","fill":"#ffffff","stroke":"#999999","strokeWidth":1},
"encoding":{"x":{"field":"x0","type":"quantitative","scale":{"domain":[0,4.125],"range":[66,165],"nice":false,"zero":false},"axis":{"orient":"bottom","offset":-80,"values":[0,1,2,3,4],"title":null,"domain":false,"labelFontSize":6.5,"tickSize":-2.5,"labelPadding":4,"tickColor":"#999999"}},"x2":{"field":"x1"},
"y":{"field":"y0","type":"quantitative","scale":{"domain":[1.58,4.48],"range":[74,0],"nice":false,"zero":false},"axis":{"orient":"left","offset":-66,"values":[2,4],"title":null,"domain":false,"labelFontSize":6.5,"tickSize":-2.5,"labelPadding":4,"tickColor":"#999999"}},"y2":{"field":"y1"}}},
{"data":{"name":"ins"},"transform":[{"filter":"datum.p=='f'"}],"mark":{"type":"line","strokeWidth":1.3},
"encoding":{"x":{"field":"x","type":"quantitative"},"y":{"field":"y","type":"quantitative"},
"color":{"field":"s","type":"nominal","scale":{"domain":["A@","HF","CP","UP","Ne"],"range":["#22992a","#000000","#ff1a1a","#2a2aff","#000000"]},"legend":null},
"strokeDash":{"field":"s","type":"nominal","scale":{"domain":["A@","HF","CP","UP","Ne"],"range":[[5,2,1.5,2],[3,1.5,1,1.5,1,1.5],[1,0],[5,2.5],[2,2]]},"legend":null}}},
{"data":{"name":"lab"},"transform":[{"filter":"datum.p=='f'&&datum.w=='i'&&datum.k=='b'"}],"mark":{"type":"text","align":"left","baseline":"alphabetic","fontSize":11},"encoding":{"x":{"field":"x","type":"quantitative"},"y":{"field":"y","type":"quantitative"},"text":{"field":"t"}}},
{"data":{"name":"lab"},"transform":[{"filter":"datum.p=='f'&&datum.w=='i'&&datum.k=='s'"}],"mark":{"type":"text","align":"left","baseline":"alphabetic","fontSize":8},"encoding":{"x":{"field":"x","type":"quantitative"},"y":{"field":"y","type":"quantitative"},"text":{"field":"t"}}}
]}
]},

{"width":164,"height":154,"resolve":{"scale":{"x":"independent","y":"independent"}},
"layer":[
{"layer":[
{"data":{"name":"main"},"transform":[{"filter":"datum.p=='p'"}],"mark":{"type":"line","strokeWidth":1.6,"clip":true},
"encoding":{"x":{"field":"x","type":"quantitative","scale":{"domain":[-0.2,4.2],"nice":false,"zero":false},"axis":{"values":[0,1,2,3,4],"labels":false,"title":null}},
"y":{"field":"y","type":"quantitative","scale":{"domain":[-45,1060],"nice":false,"zero":false},"axis":{"values":[0,200,400,600,800,1000],"format":"d","title":"e + Ne @ C₆₀ elastic-scattering cross section","titlePadding":4}},
"color":{"field":"s","type":"nominal","scale":{"domain":["A@","HF","CP","UP","Ne"],"range":["#22992a","#000000","#ff1a1a","#2a2aff","#000000"]},"legend":null},
"strokeDash":{"field":"s","type":"nominal","scale":{"domain":["A@","HF","CP","UP","Ne"],"range":[[5,2,1.5,2],[3,1.5,1,1.5,1,1.5],[1,0],[5,2.5],[2,2]]},"legend":null}}},
{"data":{"name":"lab"},"transform":[{"filter":"datum.p=='p'&&datum.w=='m'&&datum.k=='b'"}],"mark":{"type":"text","align":"left","baseline":"alphabetic","fontSize":20,"fontWeight":"bold"},"encoding":{"x":{"field":"x","type":"quantitative"},"y":{"field":"y","type":"quantitative"},"text":{"field":"t"}}},
{"data":{"name":"lab"},"transform":[{"filter":"datum.p=='p'&&datum.w=='m'&&datum.k=='s'"}],"mark":{"type":"text","align":"left","baseline":"alphabetic","fontSize":14,"fontWeight":"bold"},"encoding":{"x":{"field":"x","type":"quantitative"},"y":{"field":"y","type":"quantitative"},"text":{"field":"t"}}}
]},
{"data":{"name":"main"},"transform":[{"filter":"datum.p=='p'"}],"mark":{"type":"point","opacity":0,"clip":true},
"encoding":{"x":{"field":"x","type":"quantitative","scale":{"domain":[-0.2,4.2],"nice":false,"zero":false},"axis":{"orient":"bottom","values":[0.2,0.4,0.6,0.8,1.2,1.4,1.6,1.8,2.2,2.4,2.6,2.8,3.2,3.4,3.6,3.8],"labels":false,"domain":false,"title":null,"tickSize":-3}},
"y":{"field":"y","type":"quantitative","scale":{"domain":[-45,1060],"nice":false,"zero":false},"axis":{"orient":"left","values":[100,300,500,700,900],"labels":false,"domain":false,"title":null,"tickSize":-3}}}},
{"layer":[
{"data":{"name":"fr"},"transform":[{"filter":"datum.p=='p'"}],"mark":{"type":"rect","fill":"#ffffff","stroke":"#999999","strokeWidth":1},
"encoding":{"x":{"field":"x0","type":"quantitative","scale":{"domain":[0,4.08],"range":[64,164],"nice":false,"zero":false},"axis":{"orient":"bottom","offset":-72.3,"values":[0,1,2,3,4],"title":null,"domain":false,"labelFontSize":6.5,"tickSize":-2.5,"labelPadding":4,"tickColor":"#999999"}},"x2":{"field":"x1"},
"y":{"field":"y0","type":"quantitative","scale":{"domain":[3.03,9.04],"range":[81.7,5],"nice":false,"zero":false},"axis":{"orient":"left","offset":-64,"values":[4,6,8],"title":null,"domain":false,"labelFontSize":6.5,"tickSize":-2.5,"labelPadding":4,"tickColor":"#999999"}},"y2":{"field":"y1"}}},
{"data":{"name":"ins"},"transform":[{"filter":"datum.p=='p'"}],"mark":{"type":"line","strokeWidth":1.3},
"encoding":{"x":{"field":"x","type":"quantitative"},"y":{"field":"y","type":"quantitative"},
"color":{"field":"s","type":"nominal","scale":{"domain":["A@","HF","CP","UP","Ne"],"range":["#22992a","#000000","#ff1a1a","#2a2aff","#000000"]},"legend":null},
"strokeDash":{"field":"s","type":"nominal","scale":{"domain":["A@","HF","CP","UP","Ne"],"range":[[5,2,1.5,2],[3,1.5,1,1.5,1,1.5],[1,0],[5,2.5],[2,2]]},"legend":null}}},
{"data":{"name":"lab"},"transform":[{"filter":"datum.p=='p'&&datum.w=='i'&&datum.k=='b'"}],"mark":{"type":"text","align":"left","baseline":"alphabetic","fontSize":11},"encoding":{"x":{"field":"x","type":"quantitative"},"y":{"field":"y","type":"quantitative"},"text":{"field":"t"}}},
{"data":{"name":"lab"},"transform":[{"filter":"datum.p=='p'&&datum.w=='i'&&datum.k=='s'"}],"mark":{"type":"text","align":"left","baseline":"alphabetic","fontSize":8},"encoding":{"x":{"field":"x","type":"quantitative"},"y":{"field":"y","type":"quantitative"},"text":{"field":"t"}}}
]}
]},

{"width":164,"height":154,"resolve":{"scale":{"x":"independent","y":"independent"}},
"layer":[
{"layer":[
{"data":{"name":"main"},"transform":[{"filter":"datum.p=='g'"}],"mark":{"type":"line","strokeWidth":1.6,"clip":true},
"encoding":{"x":{"field":"x","type":"quantitative","scale":{"domain":[-0.2,4.2],"nice":false,"zero":false},"axis":{"values":[0,1,2,3,4],"labels":false,"title":null}},
"y":{"field":"y","type":"quantitative","scale":{"domain":[-87,1746],"nice":false,"zero":false},"axis":{"values":[0,500,1000,1500],"format":"d","title":null}},
"color":{"field":"s","type":"nominal","scale":{"domain":["A@","HF","CP","UP","Ne"],"range":["#22992a","#000000","#ff1a1a","#2a2aff","#000000"]},"legend":null},
"strokeDash":{"field":"s","type":"nominal","scale":{"domain":["A@","HF","CP","UP","Ne"],"range":[[5,2,1.5,2],[3,1.5,1,1.5,1,1.5],[1,0],[5,2.5],[2,2]]},"legend":null}}},
{"data":{"name":"lab"},"transform":[{"filter":"datum.p=='g'&&datum.w=='m'&&datum.k=='b'"}],"mark":{"type":"text","align":"left","baseline":"alphabetic","fontSize":20,"fontWeight":"bold"},"encoding":{"x":{"field":"x","type":"quantitative"},"y":{"field":"y","type":"quantitative"},"text":{"field":"t"}}},
{"data":{"name":"lab"},"transform":[{"filter":"datum.p=='g'&&datum.w=='m'&&datum.k=='s'"}],"mark":{"type":"text","align":"left","baseline":"alphabetic","fontSize":14,"fontWeight":"bold"},"encoding":{"x":{"field":"x","type":"quantitative"},"y":{"field":"y","type":"quantitative"},"text":{"field":"t"}}}
]},
{"data":{"name":"main"},"transform":[{"filter":"datum.p=='g'"}],"mark":{"type":"point","opacity":0,"clip":true},
"encoding":{"x":{"field":"x","type":"quantitative","scale":{"domain":[-0.2,4.2],"nice":false,"zero":false},"axis":{"orient":"bottom","values":[0.2,0.4,0.6,0.8,1.2,1.4,1.6,1.8,2.2,2.4,2.6,2.8,3.2,3.4,3.6,3.8],"labels":false,"domain":false,"title":null,"tickSize":-3}},
"y":{"field":"y","type":"quantitative","scale":{"domain":[-87,1746],"nice":false,"zero":false},"axis":{"orient":"left","values":[250,750,1250],"labels":false,"domain":false,"title":null,"tickSize":-3}}}},
{"layer":[
{"data":{"name":"fr"},"transform":[{"filter":"datum.p=='g'"}],"mark":{"type":"rect","fill":"#ffffff","stroke":"#999999","strokeWidth":1},
"encoding":{"x":{"field":"x0","type":"quantitative","scale":{"domain":[0,4.17],"range":[64.3,165],"nice":false,"zero":false},"axis":{"orient":"bottom","offset":-84,"values":[0,1,2,3,4],"title":null,"domain":false,"labelFontSize":6.5,"tickSize":-2.5,"labelPadding":4,"tickColor":"#999999"}},"x2":{"field":"x1"},
"y":{"field":"y0","type":"quantitative","scale":{"domain":[-0.956,3.55],"range":[70,4],"nice":false,"zero":false},"axis":{"orient":"left","offset":-64.3,"values":[0,2],"title":null,"domain":false,"labelFontSize":6.5,"tickSize":-2.5,"labelPadding":4,"tickColor":"#999999"}},"y2":{"field":"y1"}}},
{"data":{"name":"ins"},"transform":[{"filter":"datum.p=='g'"}],"mark":{"type":"line","strokeWidth":1.3},
"encoding":{"x":{"field":"x","type":"quantitative"},"y":{"field":"y","type":"quantitative"},
"color":{"field":"s","type":"nominal","scale":{"domain":["A@","HF","CP","UP","Ne"],"range":["#22992a","#000000","#ff1a1a","#2a2aff","#000000"]},"legend":null},
"strokeDash":{"field":"s","type":"nominal","scale":{"domain":["A@","HF","CP","UP","Ne"],"range":[[5,2,1.5,2],[3,1.5,1,1.5,1,1.5],[1,0],[5,2.5],[2,2]]},"legend":null}}},
{"data":{"name":"lab"},"transform":[{"filter":"datum.p=='g'&&datum.w=='i'&&datum.k=='b'"}],"mark":{"type":"text","align":"left","baseline":"alphabetic","fontSize":11},"encoding":{"x":{"field":"x","type":"quantitative"},"y":{"field":"y","type":"quantitative"},"text":{"field":"t"}}},
{"data":{"name":"lab"},"transform":[{"filter":"datum.p=='g'&&datum.w=='i'&&datum.k=='s'"}],"mark":{"type":"text","align":"left","baseline":"alphabetic","fontSize":8},"encoding":{"x":{"field":"x","type":"quantitative"},"y":{"field":"y","type":"quantitative"},"text":{"field":"t"}}}
]}
]},

{"width":164,"height":154,"resolve":{"scale":{"x":"independent","y":"independent"}},
"layer":[
{"layer":[
{"data":{"name":"main"},"transform":[{"filter":"datum.p=='d'"}],"mark":{"type":"line","strokeWidth":1.6,"clip":true},
"encoding":{"x":{"field":"x","type":"quantitative","scale":{"domain":[-0.2,4.2],"nice":false,"zero":false},"axis":{"values":[0,1,2,3,4],"labelFontSize":10.5,"labelPadding":12,"title":"Electron energy (eV)","titleX":163,"titlePadding":2}},
"y":{"field":"y","type":"quantitative","scale":{"domain":[0,750],"nice":false,"zero":false},"axis":{"values":[0,200,400,600],"format":"d","title":null}},
"color":{"field":"s","type":"nominal","scale":{"domain":["A@","HF","CP","UP","Ne"],"range":["#22992a","#000000","#ff1a1a","#2a2aff","#000000"]},"legend":null},
"strokeDash":{"field":"s","type":"nominal","scale":{"domain":["A@","HF","CP","UP","Ne"],"range":[[5,2,1.5,2],[3,1.5,1,1.5,1,1.5],[1,0],[5,2.5],[2,2]]},"legend":null}}},
{"data":{"name":"lab"},"transform":[{"filter":"datum.p=='d'&&datum.w=='m'&&datum.k=='b'"}],"mark":{"type":"text","align":"left","baseline":"alphabetic","fontSize":20,"fontWeight":"bold"},"encoding":{"x":{"field":"x","type":"quantitative"},"y":{"field":"y","type":"quantitative"},"text":{"field":"t"}}},
{"data":{"name":"lab"},"transform":[{"filter":"datum.p=='d'&&datum.w=='m'&&datum.k=='s'"}],"mark":{"type":"text","align":"left","baseline":"alphabetic","fontSize":14,"fontWeight":"bold"},"encoding":{"x":{"field":"x","type":"quantitative"},"y":{"field":"y","type":"quantitative"},"text":{"field":"t"}}}
]},
{"data":{"name":"main"},"transform":[{"filter":"datum.p=='d'"}],"mark":{"type":"point","opacity":0,"clip":true},
"encoding":{"x":{"field":"x","type":"quantitative","scale":{"domain":[-0.2,4.2],"nice":false,"zero":false},"axis":{"orient":"bottom","values":[0.2,0.4,0.6,0.8,1.2,1.4,1.6,1.8,2.2,2.4,2.6,2.8,3.2,3.4,3.6,3.8],"labels":false,"domain":false,"title":null,"tickSize":-3}},
"y":{"field":"y","type":"quantitative","scale":{"domain":[0,750],"nice":false,"zero":false},"axis":{"orient":"left","values":[100,300,500,700],"labels":false,"domain":false,"title":null,"tickSize":-3}}}},
{"layer":[
{"data":{"name":"fr"},"transform":[{"filter":"datum.p=='d'"}],"mark":{"type":"rect","fill":"#ffffff","stroke":"#999999","strokeWidth":1},
"encoding":{"x":{"field":"x0","type":"quantitative","scale":{"domain":[-0.14,4.145],"range":[65,164],"nice":false,"zero":false},"axis":{"orient":"bottom","offset":-66.3,"values":[0,1,2,3,4],"title":null,"domain":false,"labelFontSize":6.5,"tickSize":-2.5,"labelPadding":4,"tickColor":"#999999"}},"x2":{"field":"x1"},
"y":{"field":"y0","type":"quantitative","scale":{"domain":[0.13,4.51],"range":[87.7,3.5],"nice":false,"zero":false},"axis":{"orient":"left","offset":-65,"values":[1,2,3,4],"title":null,"domain":false,"labelFontSize":6.5,"tickSize":-2.5,"labelPadding":4,"tickColor":"#999999"}},"y2":{"field":"y1"}}},
{"data":{"name":"ins"},"transform":[{"filter":"datum.p=='d'"}],"mark":{"type":"line","strokeWidth":1.3},
"encoding":{"x":{"field":"x","type":"quantitative"},"y":{"field":"y","type":"quantitative"},
"color":{"field":"s","type":"nominal","scale":{"domain":["A@","HF","CP","UP","Ne"],"range":["#22992a","#000000","#ff1a1a","#2a2aff","#000000"]},"legend":null},
"strokeDash":{"field":"s","type":"nominal","scale":{"domain":["A@","HF","CP","UP","Ne"],"range":[[5,2,1.5,2],[3,1.5,1,1.5,1,1.5],[1,0],[5,2.5],[2,2]]},"legend":null}}},
{"data":{"name":"lab"},"transform":[{"filter":"datum.p=='d'&&datum.w=='i'&&datum.k=='b'"}],"mark":{"type":"text","align":"left","baseline":"alphabetic","fontSize":11},"encoding":{"x":{"field":"x","type":"quantitative"},"y":{"field":"y","type":"quantitative"},"text":{"field":"t"}}},
{"data":{"name":"lab"},"transform":[{"filter":"datum.p=='d'&&datum.w=='i'&&datum.k=='s'"}],"mark":{"type":"text","align":"left","baseline":"alphabetic","fontSize":8},"encoding":{"x":{"field":"x","type":"quantitative"},"y":{"field":"y","type":"quantitative"},"text":{"field":"t"}}}
]}
]},

{"width":164,"height":154,"resolve":{"scale":{"x":"independent","y":"independent"}},
"layer":[
{"layer":[
{"data":{"name":"main"},"transform":[{"filter":"datum.p=='t'"}],"mark":{"type":"line","strokeWidth":1.6,"clip":true},
"encoding":{"x":{"field":"x","type":"quantitative","scale":{"domain":[-0.2,4.2],"nice":false,"zero":false},"axis":{"values":[0,1,2,3,4],"labelFontSize":10.5,"labelPadding":12,"title":null}},
"y":{"field":"y","type":"quantitative","scale":{"domain":[-760,2935],"nice":false,"zero":false},"axis":{"values":[0,1000,2000],"format":"d","title":null}},
"color":{"field":"s","type":"nominal","scale":{"domain":["A@","HF","CP","UP","Ne"],"range":["#22992a","#000000","#ff1a1a","#2a2aff","#000000"]},"legend":null},
"strokeDash":{"field":"s","type":"nominal","scale":{"domain":["A@","HF","CP","UP","Ne"],"range":[[5,2,1.5,2],[3,1.5,1,1.5,1,1.5],[1,0],[5,2.5],[2,2]]},"legend":null}}},
{"data":{"name":"lead"},"mark":{"type":"rule","strokeWidth":0.8},"encoding":{"x":{"field":"x","type":"quantitative"},"y":{"field":"y","type":"quantitative"},"x2":{"field":"x2"},"y2":{"field":"y2"},"color":{"field":"s","type":"nominal","legend":null}}},
{"data":{"name":"ann"},"mark":{"type":"text","align":"left","baseline":"middle","fontSize":10},"encoding":{"x":{"field":"x","type":"quantitative"},"y":{"field":"y","type":"quantitative"},"text":{"field":"t"},"color":{"field":"s","type":"nominal","legend":null}}},
{"data":{"name":"lab"},"transform":[{"filter":"datum.p=='t'&&datum.w=='m'&&datum.k=='b'"}],"mark":{"type":"text","align":"left","baseline":"alphabetic","fontSize":20,"fontWeight":"bold"},"encoding":{"x":{"field":"x","type":"quantitative"},"y":{"field":"y","type":"quantitative"},"text":{"field":"t"}}},
{"data":{"name":"lab"},"transform":[{"filter":"datum.p=='t'&&datum.w=='m'&&datum.k=='s'"}],"mark":{"type":"text","align":"left","baseline":"alphabetic","fontSize":14,"fontWeight":"bold"},"encoding":{"x":{"field":"x","type":"quantitative"},"y":{"field":"y","type":"quantitative"},"text":{"field":"t"}}}
]},
{"data":{"name":"main"},"transform":[{"filter":"datum.p=='t'"}],"mark":{"type":"point","opacity":0,"clip":true},
"encoding":{"x":{"field":"x","type":"quantitative","scale":{"domain":[-0.2,4.2],"nice":false,"zero":false},"axis":{"orient":"bottom","values":[0.2,0.4,0.6,0.8,1.2,1.4,1.6,1.8,2.2,2.4,2.6,2.8,3.2,3.4,3.6,3.8],"labels":false,"domain":false,"title":null,"tickSize":-3}},
"y":{"field":"y","type":"quantitative","scale":{"domain":[-760,2935],"nice":false,"zero":false},"axis":{"orient":"left","values":[-500,500,1500,2500],"labels":false,"domain":false,"title":null,"tickSize":-3}}}}
]}
],
"columns":2,
"spacing":{"row":0,"column":38},
"bounds":"flush",
"config":{
"view":{"stroke":"#555555","strokeWidth":1.5},
"axis":{"domainColor":"#555555","domainWidth":1.5,"tickColor":"#555555","tickSize":-5,"tickWidth":1,"labelPadding":10,"labelColor":"#333333","labelFont":"Liberation Sans","labelFontSize":9.5,"grid":false,"titleFont":"Liberation Sans","titleFontWeight":"normal","titleColor":"#222222","titleFontSize":14},
"text":{"font":"Liberation Sans"}
}
}
